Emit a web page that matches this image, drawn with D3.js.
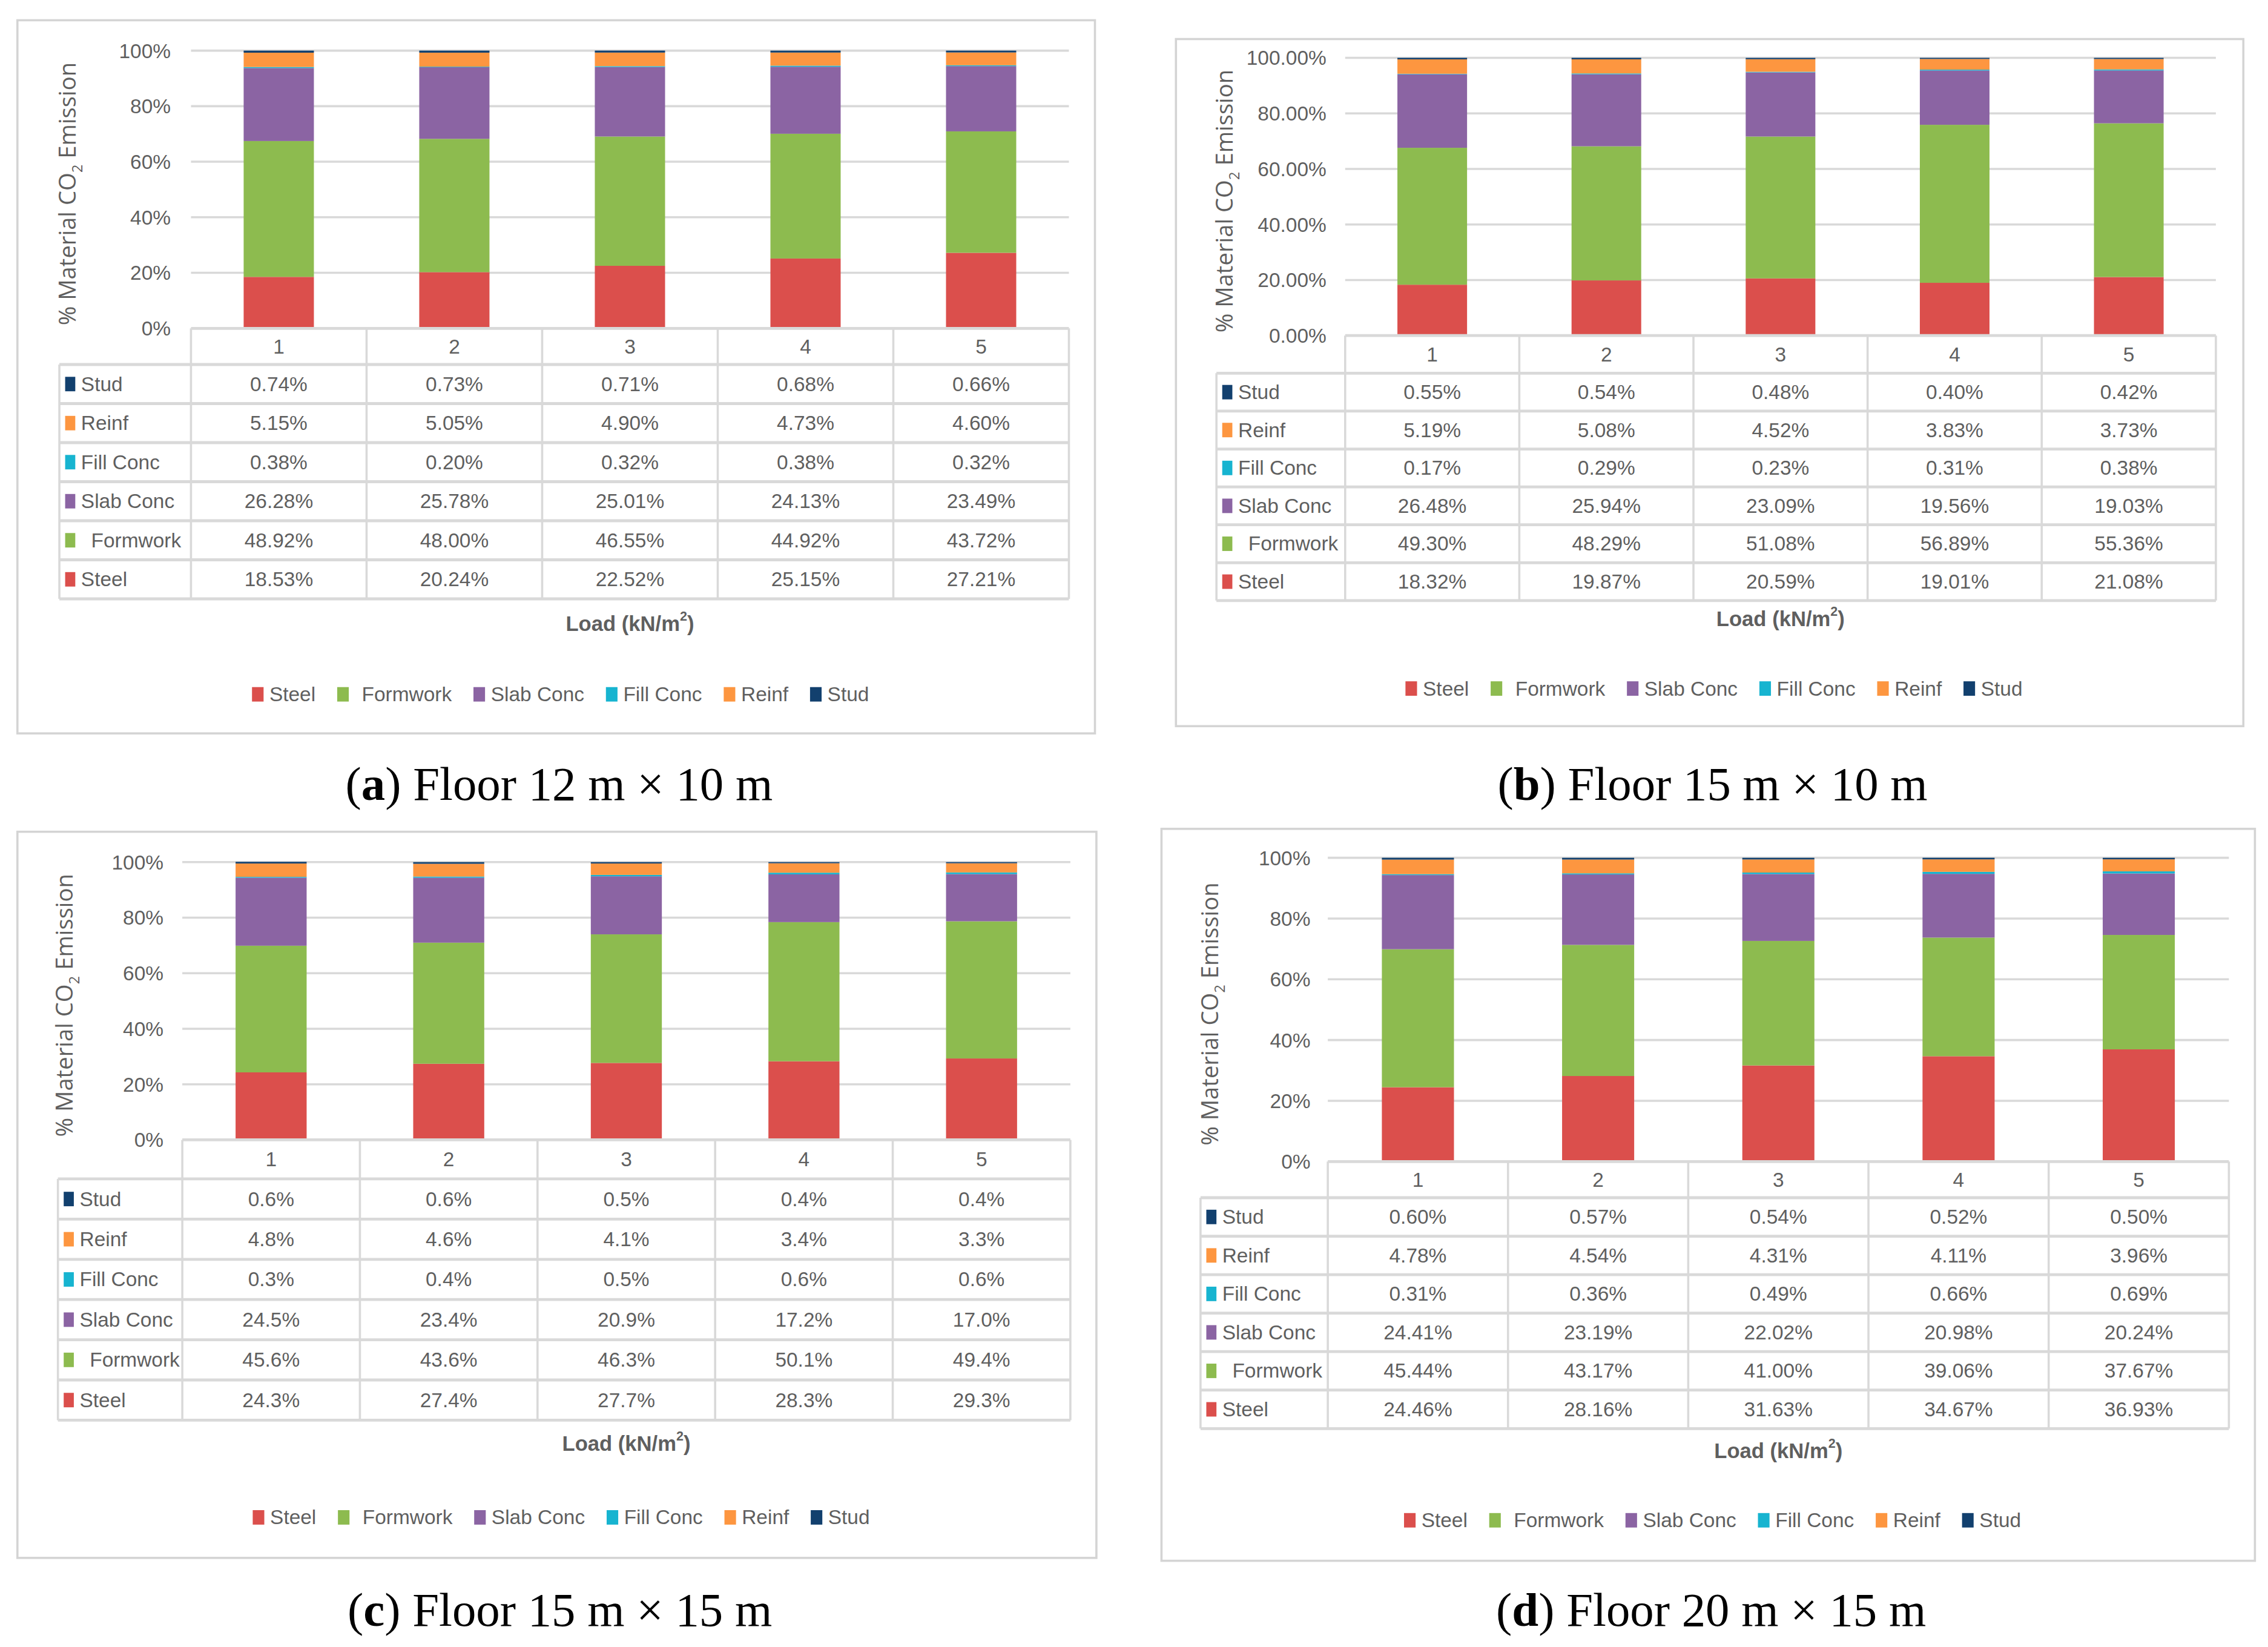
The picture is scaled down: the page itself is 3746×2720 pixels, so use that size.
<!DOCTYPE html>
<html>
<head>
<meta charset="utf-8">
<script src="https://cdnjs.cloudflare.com/ajax/libs/d3/7.8.5/d3.min.js"></script>
<style>
  body { margin: 0; background: #fff; }
  .chart-text { font-family: 'Liberation Sans Narrow', 'Liberation Sans', Arial, sans-serif; fill: #5f5f5f; }
</style>
</head>
<body>
<div id="chart"></div>
<script>
// ---- data ----
var loads = ["1", "2", "3", "4", "5"];
var materials = ["Steel", "Formwork", "Slab Conc", "Fill Conc", "Reinf", "Stud"];
var colors = ["#db4f4c", "#8dbb4f", "#8b64a3", "#17b4d0", "#fd9640", "#12406e"];
// table rows are listed top to bottom in reverse stacking order
var tableOrder = ["Stud", "Reinf", "Fill Conc", "Slab Conc", "Formwork", "Steel"];
var yTicks = [0, 20, 40, 60, 80, 100];

// % of material CO2 emission, one row per material (same order as `materials`)
var valuesA = [
    [18.53, 20.24, 22.52, 25.15, 27.21],
    [48.92, 48.00, 46.55, 44.92, 43.72],
    [26.28, 25.78, 25.01, 24.13, 23.49],
    [0.38, 0.20, 0.32, 0.38, 0.32],
    [5.15, 5.05, 4.90, 4.73, 4.60],
    [0.74, 0.73, 0.71, 0.68, 0.66]
];
var valuesB = [
    [18.32, 19.87, 20.59, 19.01, 21.08],
    [49.30, 48.29, 51.08, 56.89, 55.36],
    [26.48, 25.94, 23.09, 19.56, 19.03],
    [0.17, 0.29, 0.23, 0.31, 0.38],
    [5.19, 5.08, 4.52, 3.83, 3.73],
    [0.55, 0.54, 0.48, 0.40, 0.42]
];
var valuesC = [
    [24.3, 27.4, 27.7, 28.3, 29.3],
    [45.6, 43.6, 46.3, 50.1, 49.4],
    [24.5, 23.4, 20.9, 17.2, 17.0],
    [0.3, 0.4, 0.5, 0.6, 0.6],
    [4.8, 4.6, 4.1, 3.4, 3.3],
    [0.6, 0.6, 0.5, 0.4, 0.4]
];
var valuesD = [
    [24.46, 28.16, 31.63, 34.67, 36.93],
    [45.44, 43.17, 41.00, 39.06, 37.67],
    [24.41, 23.19, 22.02, 20.98, 20.24],
    [0.31, 0.36, 0.49, 0.66, 0.69],
    [4.78, 4.54, 4.31, 4.11, 3.96],
    [0.60, 0.57, 0.54, 0.52, 0.50]
];
var captionLetters = ["a", "b", "c", "d"];
var captionTexts = [" Floor 12 m × 10 m", " Floor 15 m × 10 m", " Floor 15 m × 15 m", " Floor 20 m × 15 m"];

// ---- layout (view box units, 1568 wide) ----
var layouts = [
    { frame: [12, 14, 757, 507], x0: 132, x1: 739, yTop: 35, yBot: 227, headH: 25, rowH: 27,
      labelX: 41, tickR: 118, titleX: 46, loadY: 431, legendY: 480, capY: 553, tickFmt: ".0f", valFmt: ".2f" },
    { frame: [813, 27, 1551, 502], x0: 930, x1: 1532, yTop: 40, yBot: 232, headH: 26, rowH: 26.2,
      labelX: 841, tickR: 917, titleX: 846, loadY: 428, legendY: 476, capY: 553, tickFmt: ".2f", valFmt: ".2f" },
    { frame: [12, 575, 758, 1077], x0: 126, x1: 740, yTop: 596, yBot: 788, headH: 27, rowH: 27.8,
      labelX: 40, tickR: 113, titleX: 44, loadY: 998, legendY: 1049, capY: 1124, tickFmt: ".0f", valFmt: ".1f" },
    { frame: [803, 573, 1559, 1079], x0: 918, x1: 1541, yTop: 593, yBot: 803, headH: 25, rowH: 26.6,
      labelX: 830, tickR: 906, titleX: 836, loadY: 1003, legendY: 1051, capY: 1124, tickFmt: ".0f", valFmt: ".2f" }
];

var svg = d3.select("#chart").append("svg")
    .attr("width", 3746)
    .attr("height", 2720)
    .attr("viewBox", "0 0 1568 1138.6");

svg.append("rect").attr("width", 1568).attr("height", 1138.6).attr("fill", "#fff");

var allValues = [valuesA, valuesB, valuesC, valuesD];
allValues.forEach(function(values, p) {
    drawPanel(layouts[p], values, captionLetters[p], captionTexts[p]);
});

function drawPanel(L, values, letter, capText) {
    var g = svg.append("g");
    var gridColor = "#d9d9d9";

    // panel frame
    g.append("rect")
        .attr("x", L.frame[0]).attr("y", L.frame[1])
        .attr("width", L.frame[2] - L.frame[0])
        .attr("height", L.frame[3] - L.frame[1])
        .attr("fill", "#fff")
        .attr("stroke", "#d4d4d4")
        .attr("stroke-width", 1.5);

    var x = d3.scaleBand()
        .domain(loads)
        .range([L.x0, L.x1])
        .paddingInner(0.6)
        .paddingOuter(0.3);
    var y = d3.scaleLinear()
        .domain([0, 100])
        .range([L.yBot, L.yTop]);

    // gridlines
    g.append("g").selectAll("line")
        .data(yTicks.slice(1))
        .join("line")
        .attr("x1", L.x0).attr("x2", L.x1)
        .attr("y1", function(d) { return y(d); })
        .attr("y2", function(d) { return y(d); })
        .attr("stroke", gridColor)
        .attr("stroke-width", 1.5);

    // y axis labels
    var yAxis = d3.axisLeft(y)
        .tickValues(yTicks)
        .tickSize(0)
        .tickPadding(L.x0 - L.tickR)
        .tickFormat(function(d) { return d3.format(L.tickFmt)(d) + "%"; });
    var ax = g.append("g")
        .attr("transform", "translate(" + L.x0 + ",0)")
        .call(yAxis);
    ax.select(".domain").remove();
    ax.attr("font-family", null).attr("font-size", null);
    ax.selectAll("text")
        .attr("class", "chart-text")
        .style("font-size", "14px");

    // axis title
    var t = g.append("text")
        .attr("transform", "translate(" + L.titleX + "," + ((L.yTop + L.yBot) / 2 + 3) + ") rotate(-90)")
        .attr("text-anchor", "middle")
        .attr("dominant-baseline", "central")
        .style("font-family", "'Open Sans', 'DejaVu Sans', sans-serif")
        .style("font-size", "16px")
        .attr("fill", "#5f5f5f");
    t.append("tspan").text("% Material CO");
    t.append("tspan").attr("baseline-shift", "sub").style("font-size", "10px").text("2");
    t.append("tspan").text(" Emission");

    // stacked bars
    var rows = loads.map(function(l, j) {
        var o = { load: l };
        materials.forEach(function(m, i) { o[m] = values[i][j]; });
        return o;
    });
    var stacked = d3.stack().keys(materials)(rows);
    g.append("g").selectAll("g")
        .data(stacked)
        .join("g")
        .attr("fill", function(d, i) { return colors[i]; })
        .selectAll("rect")
        .data(function(d) { return d; })
        .join("rect")
        .attr("x", function(d) { return x(d.data.load); })
        .attr("width", x.bandwidth())
        .attr("y", function(d) { return y(d[1]); })
        .attr("height", function(d) { return Math.max(0, y(d[0]) - y(d[1])); });

    // data table
    var step = x.step();
    var headTop = L.yBot;
    var bodyTop = L.yBot + L.headH;
    var tableBot = bodyTop + tableOrder.length * L.rowH;
    var tg = g.append("g");

    tg.append("line")
        .attr("x1", L.x0).attr("x2", L.x1)
        .attr("y1", headTop).attr("y2", headTop)
        .attr("stroke", gridColor).attr("stroke-width", 2);
    tg.selectAll(".hline")
        .data(d3.range(tableOrder.length + 1))
        .join("line")
        .attr("class", "hline")
        .attr("x1", L.labelX).attr("x2", L.x1)
        .attr("y1", function(i) { return bodyTop + i * L.rowH; })
        .attr("y2", function(i) { return bodyTop + i * L.rowH; })
        .attr("stroke", gridColor).attr("stroke-width", 2);
    tg.selectAll(".vline")
        .data(d3.range(loads.length + 1))
        .join("line")
        .attr("class", "vline")
        .attr("x1", function(k) { return L.x0 + k * step; })
        .attr("x2", function(k) { return L.x0 + k * step; })
        .attr("y1", headTop).attr("y2", tableBot)
        .attr("stroke", gridColor).attr("stroke-width", 1.5);
    tg.append("line")
        .attr("x1", L.labelX).attr("x2", L.labelX)
        .attr("y1", bodyTop).attr("y2", tableBot)
        .attr("stroke", gridColor).attr("stroke-width", 1.5);

    // header: load categories
    tg.selectAll(".head")
        .data(loads)
        .join("text")
        .attr("class", "head chart-text")
        .attr("x", function(d) { return x(d) + x.bandwidth() / 2; })
        .attr("y", headTop + L.headH / 2)
        .attr("text-anchor", "middle")
        .attr("dominant-baseline", "central")
        .style("font-size", "14px")
        .text(function(d) { return d; });

    // row labels with markers
    tableOrder.forEach(function(name, r) {
        var mi = materials.indexOf(name);
        var cy = bodyTop + r * L.rowH + L.rowH / 2;
        tg.append("rect")
            .attr("x", L.labelX + 4)
            .attr("y", cy - 5)
            .attr("width", 7)
            .attr("height", 10)
            .attr("fill", colors[mi]);
        tg.append("text")
            .attr("class", "chart-text")
            .attr("x", L.labelX + (name === "Formwork" ? 22 : 15))
            .attr("y", cy)
            .attr("dominant-baseline", "central")
            .style("font-size", "14px")
            .text(name);
        tg.selectAll(".val" + r)
            .data(values[mi])
            .join("text")
            .attr("class", "chart-text")
            .attr("x", function(d, j) { return x(loads[j]) + x.bandwidth() / 2; })
            .attr("y", cy)
            .attr("text-anchor", "middle")
            .attr("dominant-baseline", "central")
            .style("font-size", "14px")
            .text(function(d) { return d3.format(L.valFmt)(d) + "%"; });
    });

    // x axis title
    var lt = g.append("text")
        .attr("class", "chart-text")
        .attr("x", (L.x0 + L.x1) / 2)
        .attr("y", L.loadY)
        .attr("text-anchor", "middle")
        .attr("dominant-baseline", "central")
        .style("font-size", "14.5px")
        .style("font-weight", "bold");
    lt.append("tspan").text("Load (kN/m");
    lt.append("tspan").attr("baseline-shift", "super").style("font-size", "9px").text("2");
    lt.append("tspan").text(")");

    // legend
    var lg = g.append("g");
    var cursor = 0;
    materials.forEach(function(name, i) {
        lg.append("rect")
            .attr("x", cursor)
            .attr("y", -5)
            .attr("width", 8)
            .attr("height", 10)
            .attr("fill", colors[i]);
        var txt = lg.append("text")
            .attr("class", "chart-text")
            .attr("x", cursor + (name === "Formwork" ? 17 : 12))
            .attr("y", 0)
            .attr("dominant-baseline", "central")
            .style("font-size", "14px")
            .text(name);
        cursor += (name === "Formwork" ? 17 : 12) + txt.node().getComputedTextLength() + 15;
    });
    var legendW = cursor - 15;
    var frameMid = (L.frame[0] + L.frame[2]) / 2;
    lg.attr("transform", "translate(" + (frameMid + 3 - legendW / 2) + "," + L.legendY + ")");

    // caption
    var cap = g.append("text")
        .attr("x", frameMid + 2)
        .attr("y", L.capY)
        .attr("text-anchor", "middle")
        .style("font-family", "'Liberation Serif', 'Times New Roman', serif")
        .style("font-size", "33px")
        .attr("fill", "#000");
    cap.append("tspan").text("(");
    cap.append("tspan").style("font-weight", "bold").text(letter);
    cap.append("tspan").text(")" + capText);
}
</script>
</body>
</html>
